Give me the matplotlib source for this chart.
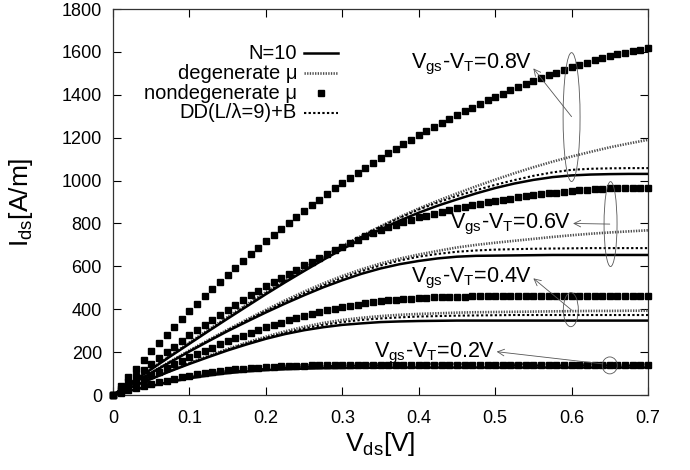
import matplotlib
matplotlib.use('Agg')
import matplotlib.pyplot as plt
from matplotlib.patches import Ellipse
import numpy as np

plt.rcParams['font.family'] = ['Liberation Sans', 'DejaVu Sans']
plt.rcParams['mathtext.fontset'] = 'custom'
plt.rcParams['mathtext.rm'] = 'Liberation Sans'
plt.rcParams['mathtext.it'] = 'Liberation Sans:italic'
plt.rcParams['mathtext.default'] = 'regular'

# ---------------- data ----------------
vds_sq = np.round(np.linspace(0.0, 0.7, 71), 3)     # square markers every 0.01 V
vds_ln = np.round(np.linspace(0.0, 0.7, 29), 4)     # line samples every 0.025 V

# nondegenerate mu (squares)
sq_08 = [0, 42, 83, 123, 163, 203, 241, 279, 316, 353, 390, 425, 460, 494, 528, 561,
         593, 625, 656, 687, 717, 746, 775, 803, 831, 859, 885, 911, 937, 963, 988,
         1012, 1036, 1059, 1082, 1105, 1127, 1148, 1169, 1190, 1211, 1230, 1249, 1268,
         1287, 1306, 1323, 1340, 1357, 1374, 1390, 1405, 1420, 1435, 1450, 1464, 1477,
         1490, 1503, 1516, 1528, 1539, 1550, 1560, 1570, 1580, 1588, 1596, 1604, 1611, 1618]
sq_06 = [0, 30, 59, 88, 117, 145, 172, 199, 226, 252, 278, 302, 326, 350, 374, 398,
         420, 442, 464, 485, 506, 526, 546, 566, 585, 604, 622, 640, 658, 675, 692,
         708, 724, 740, 755, 770, 783, 795, 806, 817, 828, 837, 846, 854, 862, 870,
         877, 884, 891, 898, 904, 910, 916, 922, 927, 932, 936, 940, 944, 948, 952,
         955, 957, 959, 961, 963, 964, 965, 966, 967, 967]
sq_04 = [0, 19, 38, 56, 74, 92, 109, 126, 143, 159, 175, 191, 206, 221, 236, 250,
         264, 277, 290, 303, 315, 327, 338, 349, 360, 370, 379, 387, 395, 403, 410,
         416, 422, 427, 432, 437, 441, 444, 447, 450, 452, 454, 456, 457, 458, 459,
         459, 460, 460, 461, 461, 461, 461, 462, 462, 462,
         462, 462, 462, 462, 462, 462, 462, 462, 462, 462, 462, 462, 462, 462, 462]
sq_02 = [0, 11, 21, 31, 41, 50, 59, 67, 75, 83, 90, 96, 102, 107, 112, 117, 120, 123,
         126, 128, 130, 132, 134, 135, 136, 137, 138, 139, 139, 140, 140,
         140, 140, 140, 140, 140, 140, 140, 140, 140, 140, 140, 140, 140, 140, 140,
         140, 140, 140, 140, 140, 140, 140, 140, 140, 140, 140, 140, 140, 140, 140,
         140, 140, 140, 140, 140, 140, 140, 140, 140, 140]

# N=10 (solid)
n10_08 = [0, 60, 120, 180, 239, 298, 356, 413, 470, 525, 578, 630, 680, 727, 772, 813,
          850, 883, 912, 940, 965, 986, 1003, 1016, 1024, 1028, 1030, 1031, 1031]
n10_06 = [0, 52, 103, 153, 203, 251, 298, 342, 385, 426, 465, 502, 535, 565, 590, 610,
          625, 637, 645, 649, 650, 651, 652, 653, 653, 653, 653, 653, 653]
n10_04 = [0, 38, 75, 111, 145, 177, 208, 236, 262, 284, 302, 316, 327, 334, 340, 343,
          345, 346, 347, 347, 347, 347, 347, 347, 347, 347, 347, 347, 347]
n10_02 = [0, 22, 42, 61, 78, 91, 102, 110, 116, 120, 123, 125, 126, 127, 127, 128,
          128, 128, 128, 128, 128, 128, 128, 128, 128, 128, 128, 128, 128]

# degenerate mu
deg_08 = [0, 62, 123, 184, 245, 305, 364, 422, 480, 537, 592, 645, 695, 742, 787, 830,
          870, 906, 940, 973, 1004, 1034, 1062, 1088, 1112, 1134, 1155, 1173, 1190]
deg_06 = [0, 53, 105, 157, 208, 257, 305, 352, 397, 441, 482, 520, 555, 586, 613, 636,
          655, 672, 688, 700, 710, 719, 728, 737, 745, 752, 758, 763, 768]
deg_04 = [0, 39, 77, 114, 149, 183, 215, 245, 272, 297, 318, 336, 350, 360, 368, 374,
          378, 381, 384, 386, 387, 388, 389, 390, 391, 392, 392, 393, 393]
deg_02 = [0, 24, 46, 66, 84, 99, 111, 121, 128, 134, 138, 140, 142, 143, 144, 144,
          145, 145, 145, 145, 145, 145, 145, 145, 145, 145, 145, 145, 145]

# DD(L/lambda=9)+B
dd_08 = [0, 61, 122, 182, 242, 301, 360, 418, 475, 531, 585, 638, 690, 738, 785, 826,
         865, 898, 928, 955, 980, 1002, 1022, 1038, 1050, 1055, 1057, 1058, 1058]
dd_06 = [0, 52, 104, 155, 205, 254, 302, 348, 392, 434, 474, 511, 546, 577, 604, 627,
         645, 658, 668, 674, 678, 680, 682, 683, 684, 685, 685, 685, 685]
dd_04 = [0, 38, 76, 112, 147, 180, 212, 241, 267, 290, 310, 327, 340, 350, 357, 362,
         366, 368, 370, 371, 372, 373, 373, 373, 373, 373, 373, 373, 373]
dd_02 = [0, 23, 44, 63, 81, 95, 106, 115, 122, 127, 131, 134, 136, 137, 137, 138,
         138, 138, 138, 138, 138, 138, 138, 138, 138, 138, 138, 138, 138]

legend_labels = ['N=10', 'degenerate \u03bc', 'nondegenerate \u03bc', 'DD(L/\u03bb=9)+B']
annot_labels = ['V$_{gs}$-V$_{T}$=0.8V', 'V$_{gs}$-V$_{T}$=0.6V',
                'V$_{gs}$-V$_{T}$=0.4V', 'V$_{gs}$-V$_{T}$=0.2V']
# text anchor, arrow head, arrow tail, ellipse centre, ellipse size
annot_text = [(0.548, 1525), (0.600, 779), (0.548, 527), (0.500, 177)]
annot_head = [(0.550, 1523), (0.602, 800), (0.550, 544), (0.502, 202)]
annot_tail = [(0.600, 1298), (0.650, 797), (0.600, 396), (0.641, 145)]
ell_center = [(0.600, 1296), (0.651, 797), (0.599, 398), (0.650, 138)]
ell_size = [(0.0222, 601), (0.017, 396), (0.0196, 159), (0.0196, 79)]

# ---------------- styles ----------------
st_n10 = dict(color='black', lw=1.8, ls='-')
st_deg = dict(color='#4d4d4d', lw=1.9, ls=(0, (0.5, 0.5)))
st_dd = dict(color='black', lw=1.5, ls=(0, (1.1, 1.1)))
st_sq = dict(color='black', ls='none', marker='s', ms=4.2, mec='black', mfc='black')

fig = plt.figure(figsize=(6.9, 4.7), dpi=100)
ax = fig.add_axes([113/690, 1-395/470, 535/690, 386/470])

for y in (n10_02, n10_04, n10_06, n10_08):
    ax.plot(vds_ln, y, zorder=3, **st_n10)
for y in (deg_02, deg_04, deg_06, deg_08):
    ax.plot(vds_ln, y, zorder=2, **st_deg)
for y in (dd_02, dd_04, dd_06, dd_08):
    ax.plot(vds_ln, y, zorder=2, **st_dd)
for y in (sq_02, sq_04, sq_06, sq_08):
    ax.plot(vds_sq, y, zorder=4, clip_on=False, **st_sq)

for lab, tp, hd, tl, ec, es in zip(annot_labels, annot_text, annot_head, annot_tail,
                                    ell_center, ell_size):
    ax.text(tp[0], tp[1], lab, ha='right', va='baseline', fontsize=15.5, zorder=6)
    ax.annotate('', xy=hd, xytext=tl,
                arrowprops=dict(arrowstyle='->', color='#555555', lw=0.6,
                                shrinkA=0, shrinkB=0, mutation_scale=12), zorder=6)
    ax.add_patch(Ellipse(ec, es[0], es[1], fill=False, ec='#555555', lw=0.6, zorder=6))

# gnuplot-style key (right-aligned labels, sample on the right)
key_y = [0.886, 0.834, 0.782, 0.731]
key_styles = [st_n10, st_deg, None, st_dd]
for lab, ky, stl in zip(legend_labels, key_y, key_styles):
    ax.text(0.344, ky, lab, transform=ax.transAxes, ha='right', va='center',
            fontsize=14.5)
    if stl is None:
        ax.plot([0.389], [ky], transform=ax.transAxes, **st_sq)
    else:
        ax.plot([0.357, 0.421], [ky, ky], transform=ax.transAxes, **stl)

ax.set_xlim(0, 0.7)
ax.set_ylim(0, 1800)
ax.set_xticks([0, 0.1, 0.2, 0.3, 0.4, 0.5, 0.6, 0.7])
ax.set_xticklabels(['0', '0.1', '0.2', '0.3', '0.4', '0.5', '0.6', '0.7'])
ax.set_yticks(range(0, 1801, 200))
ax.tick_params(direction='in', length=6, width=0.8, top=True, right=True,
               labelsize=13)
ax.tick_params(axis='x', pad=11)
ax.tick_params(axis='y', pad=8)
for s in ax.spines.values():
    s.set_linewidth(0.9)
    s.set_color('#333333')

ax.set_xlabel('V$_{ds}$[V]', fontsize=19)
ax.xaxis.set_label_coords(0.5, -0.09)
ax.set_ylabel('I$_{ds}$[A/m]', fontsize=19)
ax.yaxis.set_label_coords(-0.145, 0.5)

fig.savefig('out.png', dpi=100)
